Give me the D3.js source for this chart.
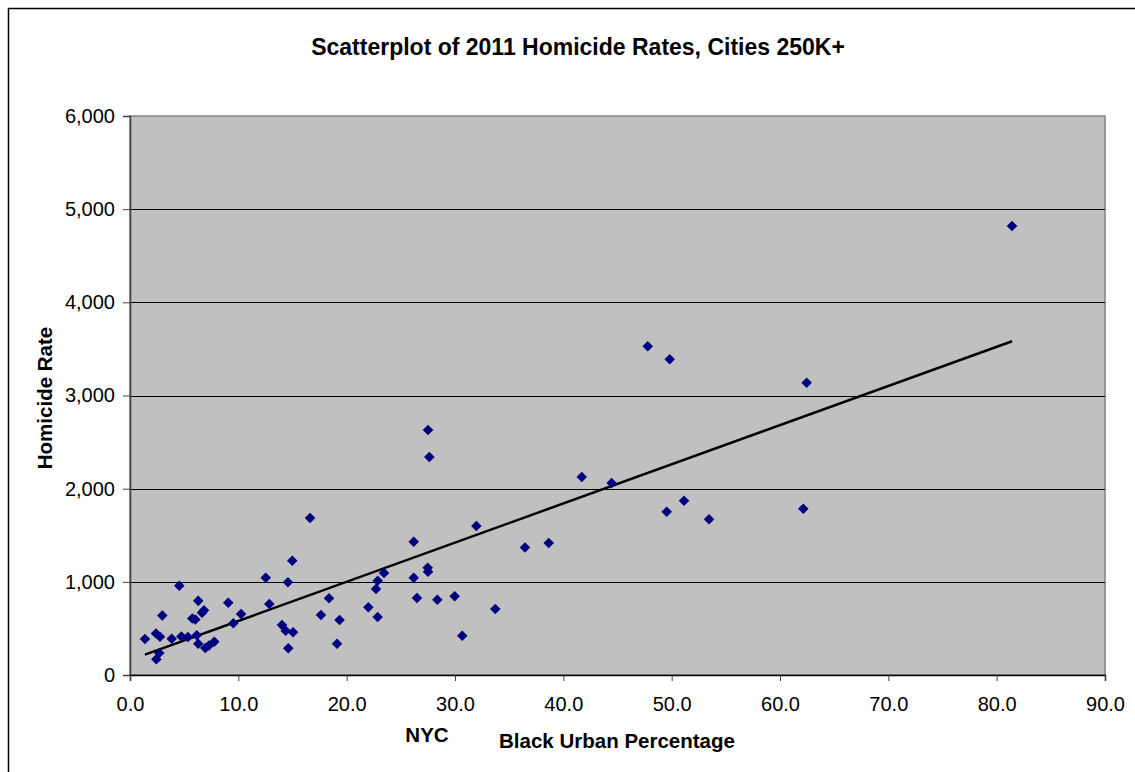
<!DOCTYPE html>
<html>
<head>
<meta charset="utf-8">
<script src="https://cdn.jsdelivr.net/npm/d3@7"></script>
<style>
  html, body { margin: 0; padding: 0; background: #fff; }
  svg { display: block; }
  text { font-family: "Liberation Sans", Arial, sans-serif; }
</style>
</head>
<body>
<svg id="chart" width="1135" height="772"></svg>
<script>
// ---- data ----
const blackPct = [1.38, 2.40, 2.77, 2.43, 2.70, 2.98, 3.85, 4.55, 4.74, 5.35,
  5.75, 6.03, 6.16, 6.30, 6.30, 6.65, 6.83, 6.95, 7.29, 7.78,
  9.07, 9.54, 10.25, 12.53, 12.86, 14.03, 14.37, 14.58, 14.61, 14.98,
  15.05, 16.62, 17.63, 18.37, 19.11, 19.34, 22.00, 22.71, 22.86, 22.86,
  23.45, 26.19, 26.19, 26.49, 27.51, 27.63, 27.48, 27.51, 28.37, 29.97,
  30.67, 31.97, 33.72, 36.46, 38.65, 41.70, 44.46, 47.79, 49.82, 49.54,
  51.14, 53.45, 62.15, 62.46, 81.42];
const homicideRate = [386, 445, 411, 169, 236, 639, 389, 958, 413, 408,
  606, 596, 427, 796, 336, 669, 694, 290, 317, 357,
  776, 555, 655, 1044, 762, 537, 475, 995, 287, 1227,
  458, 1685, 644, 823, 336, 590, 727, 923, 623, 1012,
  1095, 1431, 1044, 826, 2630, 2340, 1152, 1109, 808, 845,
  422, 1599, 708, 1369, 1417, 2125, 2061, 3528, 3389, 1753,
  1871, 1671, 1785, 3137, 4819];
const xTicks = [0, 10, 20, 30, 40, 50, 60, 70, 80, 90];
const yTicks = [0, 1000, 2000, 3000, 4000, 5000, 6000];
const titleText = "Scatterplot of 2011 Homicide Rates, Cities 250K+";
const xTitle = "Black Urban Percentage";
const xNote = "NYC";
const yTitle = "Homicide Rate";

// ---- drawing ----
const svg = d3.select("#chart");
const plot = { left: 130, right: 1105, top: 116, bottom: 675 };

const x = d3.scaleLinear().domain([0, 90]).range([plot.left, plot.right]);
const y = d3.scaleLinear().domain([0, 6000]).range([plot.bottom, plot.top]);

// outer chart border
svg.append("rect")
  .attr("x", 8.5).attr("y", 8.5)
  .attr("width", 1200).attr("height", 800)
  .attr("fill", "#fff").attr("stroke", "#000").attr("stroke-width", 1.5);

// plot area
svg.append("rect")
  .attr("x", plot.left).attr("y", plot.top)
  .attr("width", plot.right - plot.left).attr("height", plot.bottom - plot.top)
  .attr("fill", "#C0C0C0").attr("stroke", "#808080").attr("stroke-width", 1.5);

// gridlines
svg.append("g").selectAll("line")
  .data(yTicks.filter(d => d > 0 && d < 6000))
  .join("line")
  .attr("x1", plot.left).attr("x2", plot.right)
  .attr("y1", d => Math.round(y(d)) + 0.5).attr("y2", d => Math.round(y(d)) + 0.5)
  .attr("stroke", "#000").attr("stroke-width", 1);

// axes
const fmtY = d3.format(",");
const fmtX = d3.format(".1f");

const yAxis = svg.append("g")
  .attr("transform", `translate(${plot.left},0)`)
  .call(d3.axisLeft(y).tickValues(yTicks).tickFormat(fmtY).tickSize(7).tickPadding(8));
const xAxis = svg.append("g")
  .attr("transform", `translate(0,${plot.bottom})`)
  .call(d3.axisBottom(x).tickValues(xTicks).tickFormat(fmtX).tickSize(6).tickPadding(16));

[yAxis, xAxis].forEach(g => {
  g.select(".domain").attr("stroke", "#404040").attr("stroke-width", 1.5);
  g.selectAll(".tick line").attr("stroke", "#404040").attr("stroke-width", 1);
  g.selectAll(".tick text")
    .attr("fill", "#000")
    .style("font-family", '"Liberation Sans", Arial, sans-serif')
    .style("font-size", "20px");
});
xAxis.select(".domain").attr("stroke", "#000");

// regression trend line (least squares from the data)
const n = blackPct.length;
const mx = d3.mean(blackPct), my = d3.mean(homicideRate);
let sxy = 0, sxx = 0;
for (let i = 0; i < n; i++) {
  sxy += (blackPct[i] - mx) * (homicideRate[i] - my);
  sxx += (blackPct[i] - mx) ** 2;
}
const slope = sxy / sxx, intercept = my - slope * mx;
const [xmin, xmax] = d3.extent(blackPct);
svg.append("line")
  .attr("x1", x(xmin)).attr("y1", y(intercept + slope * xmin))
  .attr("x2", x(xmax)).attr("y2", y(intercept + slope * xmax))
  .attr("stroke", "#000").attr("stroke-width", 2.5);

// markers (diamonds)
const pts = blackPct.map((v, i) => ({ x: v, y: homicideRate[i] }));
svg.append("g").selectAll("path")
  .data(pts)
  .join("path")
  .attr("d", d3.symbol().type(d3.symbolSquare).size(56))
  .attr("transform", d => `translate(${x(d.x)},${y(d.y)}) rotate(45)`)
  .attr("fill", "#000080");

// titles
svg.append("text")
  .attr("x", 578).attr("y", 55)
  .attr("text-anchor", "middle")
  .style("font-size", "23px").style("font-weight", "bold")
  .text(titleText);

svg.append("text")
  .attr("x", 617).attr("y", 748)
  .attr("text-anchor", "middle")
  .style("font-size", "20.5px").style("font-weight", "bold")
  .text(xTitle);

svg.append("text")
  .attr("x", 427).attr("y", 742)
  .attr("text-anchor", "middle")
  .style("font-size", "20.5px").style("font-weight", "bold")
  .text(xNote);

svg.append("text")
  .attr("transform", "translate(52,398) rotate(-90)")
  .attr("text-anchor", "middle")
  .style("font-size", "20.5px").style("font-weight", "bold")
  .text(yTitle);
</script>
</body>
</html>
